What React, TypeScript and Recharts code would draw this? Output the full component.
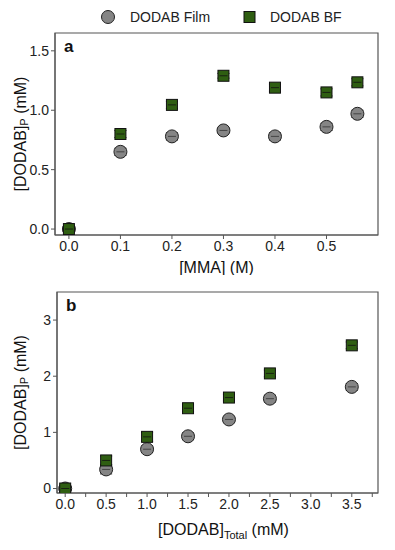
import { ScatterChart, Scatter, XAxis, YAxis, ErrorBar, Label, ReferenceArea } from 'recharts';

// panel a: [MMA] (M)
const mmaX = [0, 0.1, 0.2, 0.3, 0.4, 0.5, 0.56];
const filmA = [0, 0.65, 0.78, 0.83, 0.78, 0.86, 0.97];
const bfA = [0, 0.8, 1.045, 1.29, 1.19, 1.15, 1.235];
const filmAErr = [0.02, 0.03, 0.03, 0.02, 0.03, 0.03, 0.03];
const bfAErr = [0.02, 0.03, 0.03, 0.02, 0.03, 0.03, 0.03];

// panel b: [DODAB]Total (mM)
const totalX = [0, 0.5, 1.0, 1.5, 2.0, 2.5, 3.5];
const filmB = [0, 0.34, 0.7, 0.93, 1.23, 1.6, 1.81];
const bfB = [0, 0.5, 0.92, 1.43, 1.62, 2.05, 2.55];
const filmBErr = [0.03, 0.08, 0.06, 0.06, 0.02, 0.06, 0.06];
const bfBErr = [0.03, 0.08, 0.08, 0.06, 0.06, 0.06, 0.06];

const ticksAX = [0, 0.1, 0.2, 0.3, 0.4, 0.5];
const ticksAY = [0, 0.5, 1.0, 1.5];
const ticksBX = [0, 0.25, 0.5, 0.75, 1.0, 1.25, 1.5, 1.75, 2.0, 2.25, 2.5, 2.75, 3.0, 3.25, 3.5, 3.75];
const ticksBY = [0, 1, 2, 3];

const seriesNames = ['DODAB Film', 'DODAB BF'];

const FONT = '"Liberation Sans", Arial, sans-serif';
const GRAY = '#858585';
const GREEN = '#2f5e12';
const BOX = '#555';

const toRows = (xs: number[], ys: number[], errs: number[]) =>
  xs.map((x, i) => ({ x, y: ys[i], err: errs[i] }));

const Circle = (p: any) => (
  <g>
    <circle cx={p.cx} cy={p.cy} r={6.5} fill={GRAY} stroke="#222" strokeWidth={1} />
    <line x1={p.cx - 4} x2={p.cx + 4} y1={p.cy} y2={p.cy} stroke="#333" strokeWidth={0.8} />
  </g>
);
const Square = (p: any) => (
  <g>
    <rect x={p.cx - 5.5} y={p.cy - 5.5} width={11} height={11} fill={GREEN} stroke="#111" strokeWidth={1} />
    <line x1={p.cx - 4} x2={p.cx + 4} y1={p.cy} y2={p.cy} stroke="#111" strokeWidth={0.8} />
  </g>
);

const tickStyle = { fontSize: 14, fill: '#222', fontFamily: FONT };

const YLabel = ({ viewBox }: any) => {
  const cx = 20;
  const cy = viewBox.y + viewBox.height / 2;
  return (
    <text x={cx} y={cy} transform={`rotate(-90 ${cx} ${cy})`} textAnchor="middle" dominantBaseline="central"
      fontSize={16} fill="#111" fontFamily={FONT}>
      [DODAB]<tspan fontSize={11} dy={4}>P</tspan><tspan dy={-4}> (mM)</tspan>
    </text>
  );
};

const XLabelB = ({ viewBox }: any) => {
  const cx = viewBox.x + viewBox.width / 2;
  return (
    <text x={cx + 6} y={viewBox.y + 42} textAnchor="middle" fontSize={16} fill="#111" fontFamily={FONT}>
      [DODAB]<tspan fontSize={11} dy={4}>Total</tspan><tspan dy={-4}> (mM)</tspan>
    </text>
  );
};

const halfStep = (v: number) => Math.abs(v * 2 - Math.round(v * 2)) < 1e-6;

function Panel(props: {
  width: number; height: number; margin: any; xDomain: number[]; yDomain: number[];
  xTicks: number[]; yTicks: number[]; film: any[]; bf: any[]; letter: string; b?: boolean;
}) {
  const { width, height, margin, xDomain, yDomain, xTicks, yTicks, film, bf, letter, b } = props;
  return (
    <ScatterChart width={width} height={height} margin={margin}>
      <XAxis type="number" dataKey="x" domain={xDomain} ticks={xTicks} allowDataOverflow
        stroke={BOX} tickSize={4} height={b ? 57 : 40} tick={tickStyle} interval={0}
        tickFormatter={(v: number) => (b && !halfStep(v) ? '' : v.toFixed(1))}>
        {b ? <Label content={<XLabelB />} /> : (
          <Label value="[MMA] (M)" position="insideBottom" offset={2}
            style={{ fontSize: 16, fill: '#111', fontFamily: FONT }} />
        )}
      </XAxis>
      <YAxis type="number" dataKey="y" domain={yDomain} ticks={yTicks} allowDataOverflow
        stroke={BOX} tickSize={4} width={55} tick={tickStyle} interval={0}
        tickFormatter={(v: number) => (b ? String(v) : v.toFixed(1))}>
        <Label content={<YLabel />} />
      </YAxis>
      <ReferenceArea x1={xDomain[0]} x2={xDomain[1]} y1={yDomain[0]} y2={yDomain[1]}
        fill="none" fillOpacity={0} stroke={BOX} strokeWidth={1.2} ifOverflow="visible" />
      <Scatter name={seriesNames[0]} data={film} shape={Circle} isAnimationActive={false}>
        <ErrorBar dataKey="err" direction="y" width={6} stroke="#222" strokeWidth={1} />
      </Scatter>
      <Scatter name={seriesNames[1]} data={bf} shape={Square} isAnimationActive={false}>
        <ErrorBar dataKey="err" direction="y" width={6} stroke="#111" strokeWidth={1} />
      </Scatter>
      <text x={margin.left + 55 + 9} y={margin.top + 19} fontSize={17} fontWeight="bold" fill="#111" fontFamily={FONT}>
        {letter}
      </text>
    </ScatterChart>
  );
}

export default function App() {
  return (
    <div style={{ position: 'absolute', left: 0, top: 0, width: 395, height: 550, background: '#fff' }}>
      <div style={{ position: 'absolute', left: 0, top: 0, width: 395, height: 30 }}>
        <svg width={395} height={30}>
          <circle cx={108} cy={17} r={6.5} fill={GRAY} stroke="#222" />
          <text x={130} y={22} fontSize={14} fill="#222" fontFamily={FONT}>{seriesNames[0]}</text>
          <rect x={244} y={11.5} width={11} height={11} fill={GREEN} stroke="#111" />
          <text x={270} y={22} fontSize={14} fill="#222" fontFamily={FONT}>{seriesNames[1]}</text>
        </svg>
      </div>
      <div style={{ position: 'absolute', left: 0, top: 0 }}>
        <Panel width={395} height={275} margin={{ top: 33, right: 17, bottom: 0, left: 0 }}
          xDomain={[-0.027, 0.6]} yDomain={[-0.05, 1.65]} xTicks={ticksAX} yTicks={ticksAY}
          film={toRows(mmaX, filmA, filmAErr)} bf={toRows(mmaX, bfA, bfAErr)} letter="a" />
      </div>
      <div style={{ position: 'absolute', left: 0, top: 275 }}>
        <Panel width={395} height={275} margin={{ top: 17, right: 17, bottom: 0, left: 2 }}
          xDomain={[-0.1, 3.82]} yDomain={[-0.08, 3.5]} xTicks={ticksBX} yTicks={ticksBY}
          film={toRows(totalX, filmB, filmBErr)} bf={toRows(totalX, bfB, bfBErr)} letter="b" b />
      </div>
    </div>
  );
}
